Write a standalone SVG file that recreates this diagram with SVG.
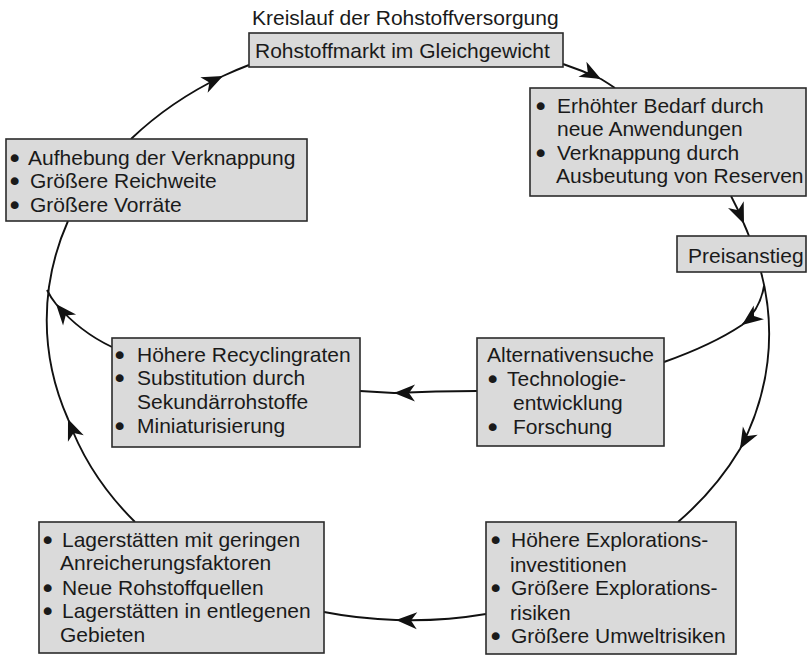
<svg xmlns="http://www.w3.org/2000/svg" width="808" height="655" viewBox="0 0 808 655">
  <defs>
    <style>
      .box { fill: #dadada; stroke: #2b2b2b; stroke-width: 1.6; }
      .lbl { font-family: "Liberation Sans", Arial, Helvetica, sans-serif; font-size: 21px; fill: #1a1a1a; }
      .bul { stroke: #1a1a1a; stroke-width: 2.2; stroke-linejoin: round; }
      .title { font-family: "Liberation Sans", Arial, Helvetica, sans-serif; font-size: 21px; fill: #1a1a1a; }
      .edge { fill: none; stroke: #111; stroke-width: 1.9; marker-mid: url(#arrow); }
    </style>
    <!-- stealth arrowhead, tip sits on the path vertex -->
    <marker id="arrow" viewBox="-22 -10 23 20" refX="0" refY="0" markerWidth="23" markerHeight="20" markerUnits="userSpaceOnUse" orient="auto">
      <path d="M0,0 L-21,-8.5 L-15,0 L-21,8.5 Z" fill="#111"/>
    </marker>
  </defs>

  <rect width="808" height="655" fill="#ffffff"/>

  <text class="title" x="252" y="25">Kreislauf der Rohstoffversorgung</text>

  <!-- connectors -->
  <g id="connectors">
    <path class="edge" d="M131,139 A362,293 0 0 1 223,76 A362,293 0 0 1 249,65"/>
    <path class="edge" d="M563,64 A362,293 0 0 1 601,79 A362,293 0 0 1 615,88"/>
    <path class="edge" d="M731,196 A362,293 0 0 1 744,224 A362,293 0 0 1 749,236"/>
    <path class="edge" d="M761,272 A362,293 0 0 1 740,449 A362,293 0 0 1 678,522"/>
    <path class="edge" d="M764,286 Q760,310 742,325 Q712,345 664,362"/>
    <path class="edge" d="M477,391 Q436,391 394,393 Q377,392 360,391"/>
    <path class="edge" d="M486,614 A362,293 0 0 1 396,620 A362,293 0 0 1 324,612"/>
    <path class="edge" d="M135,522 A362,293 0 0 1 68,419 A362,293 0 0 1 68,221"/>
    <path class="edge" d="M112,347 Q80,332 56,304 Q51,298 47,290"/>
  </g>

  <g id="markt">
    <rect class="box" x="249" y="33" width="314" height="34"/>
    <text class="lbl" x="255" y="58">Rohstoffmarkt im Gleichgewicht</text>
  </g>

  <g id="bedarf">
    <rect class="box" x="530" y="88" width="276" height="108"/>
    <text class="lbl" y="113"><tspan class="bul" x="537">•</tspan><tspan x="557">Erhöhter Bedarf durch</tspan></text>
    <text class="lbl" x="557" y="136">neue Anwendungen</text>
    <text class="lbl" y="160"><tspan class="bul" x="537">•</tspan><tspan x="557">Verknappung durch</tspan></text>
    <text class="lbl" x="556" y="183">Ausbeutung von Reserven</text>
  </g>

  <g id="preisanstieg">
    <rect class="box" x="677" y="236" width="129" height="36"/>
    <text class="lbl" x="688" y="263">Preisanstieg</text>
  </g>

  <g id="aufhebung">
    <rect class="box" x="6" y="139" width="301" height="82"/>
    <text class="lbl" y="165"><tspan class="bul" x="11">•</tspan><tspan x="28">Aufhebung der Verknappung</tspan></text>
    <text class="lbl" y="188"><tspan class="bul" x="11">•</tspan><tspan x="30">Größere Reichweite</tspan></text>
    <text class="lbl" y="212"><tspan class="bul" x="11">•</tspan><tspan x="30">Größere Vorräte</tspan></text>
  </g>

  <g id="recycling">
    <rect class="box" x="112" y="338" width="248" height="109"/>
    <text class="lbl" y="362"><tspan class="bul" x="116">•</tspan><tspan x="137">Höhere Recyclingraten</tspan></text>
    <text class="lbl" y="385"><tspan class="bul" x="116">•</tspan><tspan x="137">Substitution durch</tspan></text>
    <text class="lbl" x="137" y="409">Sekundärrohstoffe</text>
    <text class="lbl" y="433"><tspan class="bul" x="116">•</tspan><tspan x="137">Miniaturisierung</tspan></text>
  </g>

  <g id="alternativen">
    <rect class="box" x="477" y="338" width="187" height="108"/>
    <text class="lbl" x="487" y="362">Alternativensuche</text>
    <text class="lbl" y="386"><tspan class="bul" x="489">•</tspan><tspan x="507">Technologie-</tspan></text>
    <text class="lbl" x="513" y="410">entwicklung</text>
    <text class="lbl" y="434"><tspan class="bul" x="489">•</tspan><tspan x="513">Forschung</tspan></text>
  </g>

  <g id="lagerstaetten">
    <rect class="box" x="39" y="522" width="285" height="131"/>
    <text class="lbl" y="547"><tspan class="bul" x="44">•</tspan><tspan x="62">Lagerstätten mit geringen</tspan></text>
    <text class="lbl" x="60" y="570">Anreicherungsfaktoren</text>
    <text class="lbl" y="595"><tspan class="bul" x="44">•</tspan><tspan x="62">Neue Rohstoffquellen</tspan></text>
    <text class="lbl" y="618"><tspan class="bul" x="44">•</tspan><tspan x="62">Lagerstätten in entlegenen</tspan></text>
    <text class="lbl" x="60" y="642">Gebieten</text>
  </g>

  <g id="exploration">
    <rect class="box" x="486" y="522" width="250" height="132"/>
    <text class="lbl" y="547"><tspan class="bul" x="492">•</tspan><tspan x="511">Höhere Explorations-</tspan></text>
    <text class="lbl" x="510" y="572">investitionen</text>
    <text class="lbl" y="595"><tspan class="bul" x="492">•</tspan><tspan x="511">Größere Explorations-</tspan></text>
    <text class="lbl" x="510" y="620">risiken</text>
    <text class="lbl" y="643"><tspan class="bul" x="492">•</tspan><tspan x="511">Größere Umweltrisiken</tspan></text>
  </g>
</svg>
